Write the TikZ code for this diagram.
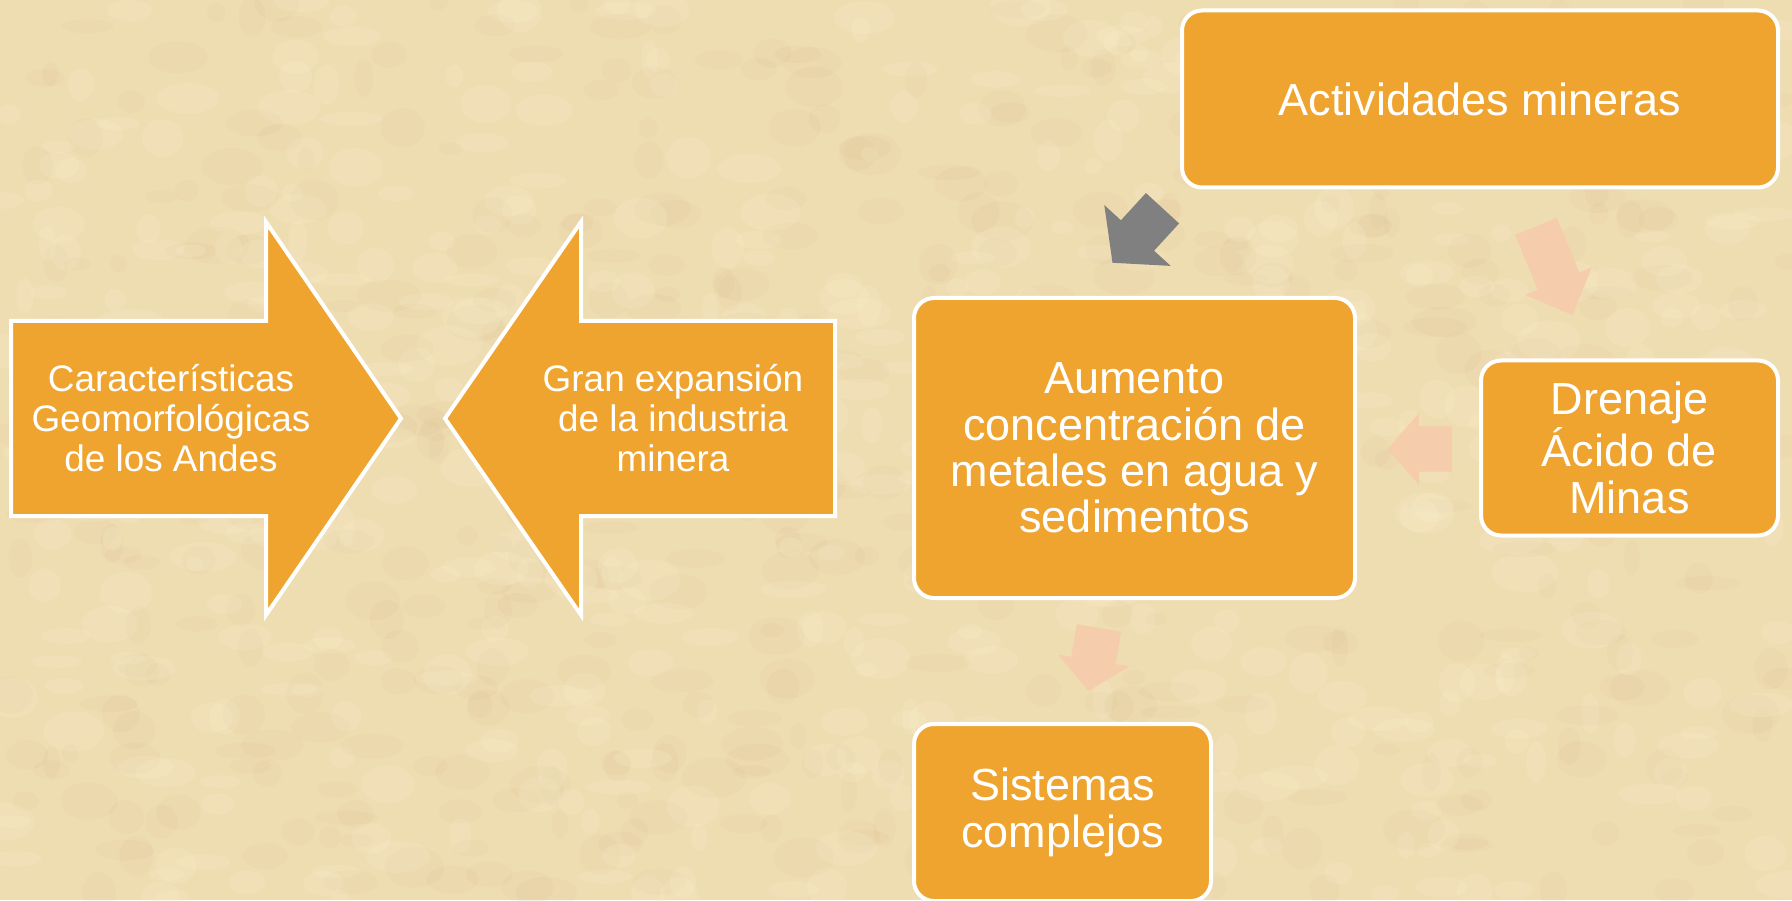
\documentclass[tikz,border=0pt]{standalone}
\usepackage{fontspec}
\setmainfont{Liberation Sans}
\usetikzlibrary{positioning}

\definecolor{boxorange}{RGB}{239,164,47}
\definecolor{paper}{RGB}{239,221,178}
\definecolor{paperlight}{RGB}{249,238,205}
\definecolor{paperdark}{RGB}{214,186,136}
\definecolor{arrowpink}{RGB}{245,204,172}
\definecolor{arrowgray}{RGB}{128,128,128}

\begin{document}
\begin{tikzpicture}[box/.style={shape=rectangle,draw=white,line width=0.4mm,
	fill=boxorange,rounded corners=2mm,outer sep=0pt,text=white,align=center,
	font=\fontsize{12.8}{13.2}\selectfont},
	bigarrow/.style={draw=white,line width=0.4mm,fill=boxorange},
	arrowtext/.style={text=white,align=center,font=\fontsize{10.5}{11.4}\selectfont},
	pics/blockarrow/.style n args={4}{code={
		\fill[#4] (-#1,-0.225) -- (0,-0.225) -- (0,-#2) -- (#3,0)
			-- (0,#2) -- (0,0.225) -- (-#1,0.225) -- cycle;}}]
	\useasboundingbox (0,0) rectangle (17.92,9);
	% paper background
	\begin{scope}
		\clip (0,0) rectangle (17.92,9);
		\fill[paper] (0,0) rectangle (17.92,9);
		\pgfmathsetseed{7}
		\foreach \i in {1,...,500}
			\fill[paperdark,opacity=0.1] ({rnd*17.92},{rnd*9}) ellipse ({0.08+0.25*rnd} and {0.06+0.15*rnd});
		\foreach \i in {1,...,500}
			\fill[paperlight,opacity=0.22] ({rnd*17.92},{rnd*9}) ellipse ({0.08+0.25*rnd} and {0.06+0.15*rnd});
	\end{scope}

	% the two big arrows
	\filldraw[bigarrow] (0.11,5.79) -- (2.66,5.79) -- (2.66,6.78) -- (4.01,4.815)
		-- (2.66,2.85) -- (2.66,3.84) -- (0.11,3.84) -- cycle;
	\filldraw[bigarrow] (8.35,5.79) -- (5.81,5.79) -- (5.81,6.78) -- (4.45,4.815)
		-- (5.81,2.85) -- (5.81,3.84) -- (8.35,3.84) -- cycle;
	\node (andes) [arrowtext] at (1.71,4.815) {Características\\Geomorfológicas\\de los Andes};
	\node (expansion) [arrowtext] at (6.73,4.815) {Gran expansión\\de la industria\\minera};

	% create the nodes.
	\node (aumento) [box,minimum width=4.41cm,minimum height=3cm] at (11.345,4.52)
		{Aumento\\concentración de\\metales en agua y\\sedimentos};
	\node (drenaje) [box,minimum width=2.97cm,minimum height=1.75cm,
		right=1.26cm of aumento] {Drenaje\\Ácido de\\Minas};
	\node (actividades) [box,minimum width=5.96cm,minimum height=1.77cm,
		above left=1.73cm and 0cm of drenaje.north east] {Actividades mineras};
	\node (sistemas) [box,minimum width=2.97cm,minimum height=1.77cm,
		below right=1.26cm and 0cm of aumento.south west] {Sistemas\\complejos};

	% the block arrows between the nodes
	\pic[rotate=-132.5] at (11.375,6.645) {blockarrow={0.37}{0.45}{0.37}{arrowgray}};
	\pic[rotate=-67.5] at (15.585,6.19) {blockarrow={0.59}{0.36}{0.37}{arrowpink}};
	\pic[rotate=180] at (14.19,4.51) {blockarrow={0.33}{0.36}{0.31}{arrowpink}};
	\pic[rotate=-99.5] at (10.935,2.395) {blockarrow={0.33}{0.36}{0.31}{arrowpink}};
\end{tikzpicture}
\end{document}
